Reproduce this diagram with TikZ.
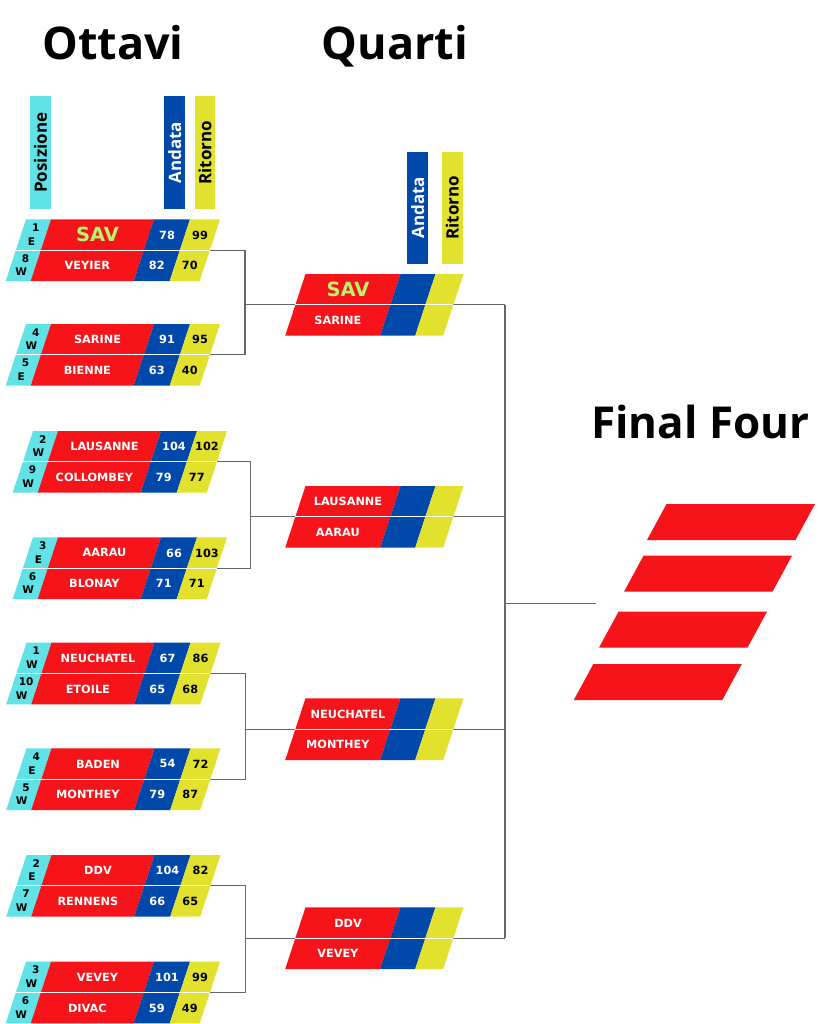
\documentclass[tikz,border=0pt]{standalone}
\usepackage{fontspec}
\setmainfont{Open Sans}
\newfontfamily\boxfont{DejaVu Sans}
\definecolor{rdc}{HTML}{F61319}
\definecolor{blc}{HTML}{0048AA}
\definecolor{ylc}{HTML}{E2E22E}
\definecolor{cyc}{HTML}{60E2E6}
\definecolor{savgreen}{HTML}{B9F46C}
\definecolor{linegray}{HTML}{666666}
\newcommand\savstyle{\color{savgreen}\fontsize{19.5}{19.5}\selectfont}
% Ottavi row: #1 id, #2 x0 (top-left), #3 y top, #4 num, #5 letter, #6 team, #7 andata, #8 ritorno
\newcommand\orow[8]{%
 \fill[cyc] ({#2},{#3}) -- ({#2+25},{#3}) -- ({#2+14.85},{#3+30.85}) -- ({#2-10.15},{#3+30.85}) -- cycle;
 \fill[rdc] ({#2+25},{#3}) -- ({#2+128},{#3}) -- ({#2+117.85},{#3+30.85}) -- ({#2+14.85},{#3+30.85}) -- cycle;
 \fill[blc] ({#2+128},{#3}) -- ({#2+164},{#3}) -- ({#2+153.85},{#3+30.85}) -- ({#2+117.85},{#3+30.85}) -- cycle;
 \fill[ylc] ({#2+164},{#3}) -- ({#2+194},{#3}) -- ({#2+183.85},{#3+30.85}) -- ({#2+153.85},{#3+30.85}) -- cycle;
 \node[postxt] (#1-n) at ({#2+12.5-2.7},{#3+8.3}) {#4};
 \node[postxt] (#1-l) at ({#2+12.5-7.1},{#3+22}) {#5};
 \node[teamtxt] (#1-t) at ({#2+76.5-5},{#3+15.6}) {#6};
 \node[scoretxt,text=white] (#1-a) at ({#2+146-5},{#3+15.6}) {#7};
 \node[scoretxt,text=black] (#1-r) at ({#2+179-5},{#3+15.6}) {#8};
}
% separator of a pair: #1 x0, #2 y top, #3 width
\newcommand\pairsep[3]{%
 \draw[white,line width=1pt] ({#1-10.15},{#2+30.85}) -- ({#1+#3-10.15},{#2+30.85});
}
% Quarti row: #1 id, #2 x0, #3 y top, #4 team
\newcommand\qrow[4]{%
 \fill[rdc] ({#2},{#3}) -- ({#2+95},{#3}) -- ({#2+84.85},{#3+30.85}) -- ({#2-10.15},{#3+30.85}) -- cycle;
 \fill[blc] ({#2+95},{#3}) -- ({#2+130},{#3}) -- ({#2+119.85},{#3+30.85}) -- ({#2+84.85},{#3+30.85}) -- cycle;
 \fill[ylc] ({#2+130},{#3}) -- ({#2+158},{#3}) -- ({#2+147.85},{#3+30.85}) -- ({#2+119.85},{#3+30.85}) -- cycle;
 \node[teamtxt] (#1-t) at ({#2+47.5-5},{#3+15.6}) {#4};
}
\newcommand\ffbar[2]{%
 \fill[rdc] ({#1},{#2}) -- ({#1+148.5},{#2}) -- ({#1+129},{#2+36}) -- ({#1-19.5},{#2+36}) -- cycle;
}
\begin{document}
\begin{tikzpicture}[x=1pt,y=-1pt,
  conn/.style={draw=linegray,line width=1.1pt},
  teamtxt/.style={font={\boxfont\bfseries\fontsize{11.3}{11.3}\selectfont},text=white,inner sep=0},
  scoretxt/.style={font={\boxfont\bfseries\fontsize{11.3}{11.3}\selectfont},inner sep=0},
  postxt/.style={font={\boxfont\bfseries\fontsize{10.5}{10.5}\selectfont},text=black,inner sep=0},
  hdr/.style={rotate=90,inner sep=0,minimum height=21pt,font={\bfseries\fontsize{17}{17}\selectfont}},
  title/.style={font={\bfseries\fontsize{45}{45}\selectfont},anchor=base west,inner sep=0}]
\useasboundingbox[fill=white] (0,0) rectangle (819,1024);

% titles
\node[title] (tott) at (42,60) {Ottavi};
\node[title] (tqua) at (321.5,60) {Quarti};
\node[title,font={\bfseries\fontsize{44}{44}\selectfont}] (tff) at (591,438.3) {Final Four};

% headers
\node[hdr,fill=cyc,text=black,minimum width=113.3pt] (hpos) at (40.5,152.65) {Posizione};
\node[hdr,fill=blc,text=white,minimum width=113.3pt,minimum height=20.7pt] (hand) at (174.65,152.65) {Andata};
\node[hdr,fill=ylc,text=black,minimum width=113.3pt,minimum height=20pt] (hrit) at (205,152.65) {Ritorno};
\node[hdr,fill=blc,text=white,minimum width=112.3pt] (qand) at (417.8,207.85) {Andata};
\node[hdr,fill=ylc,text=black,minimum width=112.3pt] (qrit) at (452.2,207.85) {Ritorno};

% connector coordinates
\coordinate (o1R) at (209.85,250.15);
\coordinate (o2R) at (209.85,354.85);
\coordinate (o3R) at (216.85,461.85);
\coordinate (o4R) at (216.85,568.15);
\coordinate (o5R) at (210.35,673.55);
\coordinate (o6R) at (210.35,779.15);
\coordinate (o7R) at (210.35,885.85);
\coordinate (o8R) at (209.85,992.55);
\coordinate (b1) at (245,304.85);
\coordinate (b2) at (250.5,516.85);
\coordinate (b3) at (245.5,729.15);
\coordinate (b4) at (245.5,938.15);
\coordinate (m1) at (505,304.85);
\coordinate (m2) at (505,516.85);
\coordinate (m3) at (505,729.15);
\coordinate (m4) at (505,938.15);
\coordinate (mf) at (505,603.3);
\coordinate (ff) at (596,603.3);

\draw[conn] (o1R) -| (b1) |- (o2R);
\draw[conn] (o3R) -| (b2) |- (o4R);
\draw[conn] (o5R) -| (b3) |- (o6R);
\draw[conn] (o7R) -| (b4) |- (o8R);
\draw[conn] (b1) -- (m1);
\draw[conn] (b2) -- (m2);
\draw[conn] (b3) -- (m3);
\draw[conn] (b4) -- (m4);
\draw[conn] (m1) -- (m4);
\draw[conn] (mf) -- (ff);

% Ottavi
\orow{o1a}{26}{219.3}{1}{E}{\savstyle SAV}{78}{99}
\orow{o1b}{26-10.15}{219.3+30.85}{8}{W}{VEYIER}{82}{70}
\pairsep{26}{219.3}{194}
\orow{o2a}{26}{324}{4}{W}{SARINE}{91}{95}
\orow{o2b}{26-10.15}{324+30.85}{5}{E}{BIENNE}{63}{40}
\pairsep{26}{324}{194}
\orow{o3a}{33}{431}{2}{W}{LAUSANNE}{104}{102}
\orow{o3b}{33-10.15}{431+30.85}{9}{W}{COLLOMBEY}{79}{77}
\pairsep{33}{431}{194}
\orow{o4a}{33}{537.3}{3}{E}{AARAU}{66}{103}
\orow{o4b}{33-10.15}{537.3+30.85}{6}{W}{BLONAY}{71}{71}
\pairsep{33}{537.3}{194}
\orow{o5a}{26.5}{642.7}{1}{W}{NEUCHATEL}{67}{86}
\orow{o5b}{26.5-10.15}{642.7+30.85}{10}{W}{ETOILE}{65}{68}
\pairsep{26.5}{642.7}{194}
\orow{o6a}{26.5}{748.3}{4}{E}{BADEN}{54}{72}
\orow{o6b}{26.5-10.15}{748.3+30.85}{5}{W}{MONTHEY}{79}{87}
\pairsep{26.5}{748.3}{194}
\orow{o7a}{26.5}{855}{2}{E}{DDV}{104}{82}
\orow{o7b}{26.5-10.15}{855+30.85}{7}{W}{RENNENS}{66}{65}
\pairsep{26.5}{855}{194}
\orow{o8a}{26}{961.7}{3}{W}{VEVEY}{101}{99}
\orow{o8b}{26-10.15}{961.7+30.85}{6}{W}{DIVAC}{59}{49}
\pairsep{26}{961.7}{194}

% Quarti
\qrow{q1a}{305.5}{274}{\savstyle SAV}
\qrow{q1b}{305.5-10.15}{274+30.85}{SARINE}
\pairsep{305.5}{274}{158}
\qrow{q2a}{305.5}{486}{LAUSANNE}
\qrow{q2b}{305.5-10.15}{486+30.85}{AARAU}
\pairsep{305.5}{486}{158}
\qrow{q3a}{305.5}{698.3}{NEUCHATEL}
\qrow{q3b}{305.5-10.15}{698.3+30.85}{MONTHEY}
\pairsep{305.5}{698.3}{158}
\qrow{q4a}{305.5}{907.3}{DDV}
\qrow{q4b}{305.5-10.15}{907.3+30.85}{VEVEY}
\pairsep{305.5}{907.3}{158}

% Final Four
\ffbar{666.5}{504}
\ffbar{643.5}{555.7}
\ffbar{618.5}{611.7}
\ffbar{593.3}{664}
\end{tikzpicture}
\end{document}
